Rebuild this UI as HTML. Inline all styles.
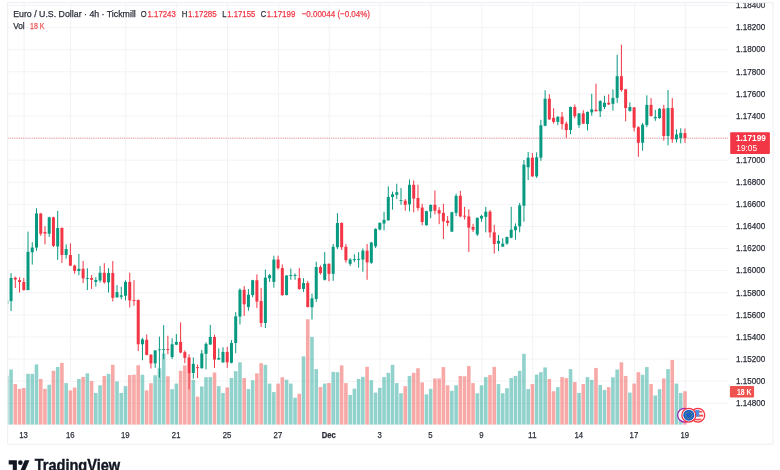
<!DOCTYPE html>
<html><head><meta charset="utf-8"><title>EURUSD chart</title>
<style>html,body{margin:0;padding:0;background:#fff;overflow:hidden}body{width:780px;height:470px;position:relative;font-family:"Liberation Sans",sans-serif}</style></head>
<body>
<svg width="780" height="470" viewBox="0 0 780 470" style="display:block;position:absolute;left:0;top:0" font-family="'Liberation Sans', sans-serif">
<rect width="780" height="470" fill="#fff"/>
<g opacity="0.999">
<defs><clipPath id="pane"><rect x="7.7" y="2.7" width="721.5" height="422.1"/></clipPath></defs>
<g stroke="#f2f3f6" stroke-width="1" shape-rendering="auto">
<line x1="7.7" x2="729.2" y1="5.50" y2="5.50"/>
<line x1="7.7" x2="729.2" y1="27.60" y2="27.60"/>
<line x1="7.7" x2="729.2" y1="49.70" y2="49.70"/>
<line x1="7.7" x2="729.2" y1="71.80" y2="71.80"/>
<line x1="7.7" x2="729.2" y1="93.90" y2="93.90"/>
<line x1="7.7" x2="729.2" y1="116.00" y2="116.00"/>
<line x1="7.7" x2="729.2" y1="138.10" y2="138.10"/>
<line x1="7.7" x2="729.2" y1="160.20" y2="160.20"/>
<line x1="7.7" x2="729.2" y1="182.30" y2="182.30"/>
<line x1="7.7" x2="729.2" y1="204.40" y2="204.40"/>
<line x1="7.7" x2="729.2" y1="226.50" y2="226.50"/>
<line x1="7.7" x2="729.2" y1="248.60" y2="248.60"/>
<line x1="7.7" x2="729.2" y1="270.70" y2="270.70"/>
<line x1="7.7" x2="729.2" y1="292.80" y2="292.80"/>
<line x1="7.7" x2="729.2" y1="314.90" y2="314.90"/>
<line x1="7.7" x2="729.2" y1="337.00" y2="337.00"/>
<line x1="7.7" x2="729.2" y1="359.10" y2="359.10"/>
<line x1="7.7" x2="729.2" y1="381.20" y2="381.20"/>
<line x1="7.7" x2="729.2" y1="403.30" y2="403.30"/>
<line x1="24.08" x2="24.08" y1="2.7" y2="424.8"/>
<line x1="70.70" x2="70.70" y1="2.7" y2="424.8"/>
<line x1="125.80" x2="125.80" y1="2.7" y2="424.8"/>
<line x1="176.66" x2="176.66" y1="2.7" y2="424.8"/>
<line x1="227.52" x2="227.52" y1="2.7" y2="424.8"/>
<line x1="278.39" x2="278.39" y1="2.7" y2="424.8"/>
<line x1="329.25" x2="329.25" y1="2.7" y2="424.8"/>
<line x1="380.11" x2="380.11" y1="2.7" y2="424.8"/>
<line x1="430.97" x2="430.97" y1="2.7" y2="424.8"/>
<line x1="481.83" x2="481.83" y1="2.7" y2="424.8"/>
<line x1="532.70" x2="532.70" y1="2.7" y2="424.8"/>
<line x1="579.32" x2="579.32" y1="2.7" y2="424.8"/>
<line x1="634.42" x2="634.42" y1="2.7" y2="424.8"/>
<line x1="685.28" x2="685.28" y1="2.7" y2="424.8"/>
</g>
<g clip-path="url(#pane)">
<rect x="5.02" y="375.93" width="3.6" height="48.87" fill="rgba(38,166,154,0.5)"/>
<rect x="9.26" y="369.46" width="3.6" height="55.34" fill="rgba(38,166,154,0.5)"/>
<rect x="13.50" y="384.09" width="3.6" height="40.71" fill="rgba(239,83,80,0.5)"/>
<rect x="17.74" y="388.86" width="3.6" height="35.94" fill="rgba(239,83,80,0.5)"/>
<rect x="21.98" y="388.01" width="3.6" height="36.79" fill="rgba(239,83,80,0.5)"/>
<rect x="26.21" y="373.88" width="3.6" height="50.92" fill="rgba(38,166,154,0.5)"/>
<rect x="30.45" y="373.88" width="3.6" height="50.92" fill="rgba(38,166,154,0.5)"/>
<rect x="34.69" y="364.36" width="3.6" height="60.44" fill="rgba(38,166,154,0.5)"/>
<rect x="38.93" y="378.99" width="3.6" height="45.81" fill="rgba(239,83,80,0.5)"/>
<rect x="43.17" y="388.86" width="3.6" height="35.94" fill="rgba(239,83,80,0.5)"/>
<rect x="47.41" y="384.77" width="3.6" height="40.03" fill="rgba(38,166,154,0.5)"/>
<rect x="51.65" y="370.82" width="3.6" height="53.98" fill="rgba(239,83,80,0.5)"/>
<rect x="55.88" y="366.91" width="3.6" height="57.89" fill="rgba(38,166,154,0.5)"/>
<rect x="60.12" y="362.82" width="3.6" height="61.98" fill="rgba(239,83,80,0.5)"/>
<rect x="64.36" y="383.07" width="3.6" height="41.73" fill="rgba(38,166,154,0.5)"/>
<rect x="68.60" y="390.39" width="3.6" height="34.41" fill="rgba(239,83,80,0.5)"/>
<rect x="72.84" y="387.50" width="3.6" height="37.30" fill="rgba(239,83,80,0.5)"/>
<rect x="77.08" y="378.99" width="3.6" height="45.81" fill="rgba(38,166,154,0.5)"/>
<rect x="81.31" y="376.95" width="3.6" height="47.85" fill="rgba(239,83,80,0.5)"/>
<rect x="85.55" y="373.37" width="3.6" height="51.43" fill="rgba(38,166,154,0.5)"/>
<rect x="89.79" y="381.03" width="3.6" height="43.77" fill="rgba(239,83,80,0.5)"/>
<rect x="94.03" y="392.94" width="3.6" height="31.86" fill="rgba(38,166,154,0.5)"/>
<rect x="98.27" y="385.28" width="3.6" height="39.52" fill="rgba(38,166,154,0.5)"/>
<rect x="102.51" y="375.93" width="3.6" height="48.87" fill="rgba(239,83,80,0.5)"/>
<rect x="106.75" y="373.88" width="3.6" height="50.92" fill="rgba(38,166,154,0.5)"/>
<rect x="110.98" y="364.87" width="3.6" height="59.93" fill="rgba(239,83,80,0.5)"/>
<rect x="115.22" y="381.37" width="3.6" height="43.43" fill="rgba(38,166,154,0.5)"/>
<rect x="119.46" y="392.94" width="3.6" height="31.86" fill="rgba(38,166,154,0.5)"/>
<rect x="123.70" y="386.14" width="3.6" height="38.66" fill="rgba(38,166,154,0.5)"/>
<rect x="127.94" y="375.08" width="3.6" height="49.72" fill="rgba(239,83,80,0.5)"/>
<rect x="132.18" y="374.74" width="3.6" height="50.06" fill="rgba(239,83,80,0.5)"/>
<rect x="136.41" y="365.21" width="3.6" height="59.59" fill="rgba(239,83,80,0.5)"/>
<rect x="140.65" y="374.74" width="3.6" height="50.06" fill="rgba(38,166,154,0.5)"/>
<rect x="144.89" y="390.39" width="3.6" height="34.41" fill="rgba(239,83,80,0.5)"/>
<rect x="149.13" y="383.24" width="3.6" height="41.56" fill="rgba(239,83,80,0.5)"/>
<rect x="153.37" y="375.25" width="3.6" height="49.55" fill="rgba(38,166,154,0.5)"/>
<rect x="157.61" y="368.27" width="3.6" height="56.53" fill="rgba(38,166,154,0.5)"/>
<rect x="161.85" y="353.47" width="3.6" height="71.33" fill="rgba(38,166,154,0.5)"/>
<rect x="166.08" y="376.27" width="3.6" height="48.53" fill="rgba(239,83,80,0.5)"/>
<rect x="170.32" y="389.20" width="3.6" height="35.60" fill="rgba(38,166,154,0.5)"/>
<rect x="174.56" y="383.58" width="3.6" height="41.22" fill="rgba(38,166,154,0.5)"/>
<rect x="178.80" y="370.82" width="3.6" height="53.98" fill="rgba(239,83,80,0.5)"/>
<rect x="183.04" y="365.38" width="3.6" height="59.42" fill="rgba(239,83,80,0.5)"/>
<rect x="187.28" y="372.52" width="3.6" height="52.28" fill="rgba(239,83,80,0.5)"/>
<rect x="191.52" y="379.84" width="3.6" height="44.96" fill="rgba(38,166,154,0.5)"/>
<rect x="195.75" y="396.69" width="3.6" height="28.11" fill="rgba(239,83,80,0.5)"/>
<rect x="199.99" y="386.48" width="3.6" height="38.32" fill="rgba(38,166,154,0.5)"/>
<rect x="204.23" y="377.12" width="3.6" height="47.68" fill="rgba(38,166,154,0.5)"/>
<rect x="208.47" y="377.12" width="3.6" height="47.68" fill="rgba(38,166,154,0.5)"/>
<rect x="212.71" y="372.52" width="3.6" height="52.28" fill="rgba(239,83,80,0.5)"/>
<rect x="216.95" y="386.14" width="3.6" height="38.66" fill="rgba(38,166,154,0.5)"/>
<rect x="221.19" y="392.94" width="3.6" height="31.86" fill="rgba(38,166,154,0.5)"/>
<rect x="225.42" y="387.50" width="3.6" height="37.30" fill="rgba(239,83,80,0.5)"/>
<rect x="229.66" y="377.97" width="3.6" height="46.83" fill="rgba(38,166,154,0.5)"/>
<rect x="233.90" y="371.16" width="3.6" height="53.64" fill="rgba(38,166,154,0.5)"/>
<rect x="238.14" y="362.31" width="3.6" height="62.49" fill="rgba(38,166,154,0.5)"/>
<rect x="242.38" y="377.97" width="3.6" height="46.83" fill="rgba(239,83,80,0.5)"/>
<rect x="246.62" y="389.03" width="3.6" height="35.77" fill="rgba(38,166,154,0.5)"/>
<rect x="250.85" y="380.18" width="3.6" height="44.62" fill="rgba(38,166,154,0.5)"/>
<rect x="255.09" y="373.37" width="3.6" height="51.43" fill="rgba(239,83,80,0.5)"/>
<rect x="259.33" y="363.16" width="3.6" height="61.64" fill="rgba(239,83,80,0.5)"/>
<rect x="263.57" y="364.87" width="3.6" height="59.93" fill="rgba(38,166,154,0.5)"/>
<rect x="267.81" y="383.58" width="3.6" height="41.22" fill="rgba(38,166,154,0.5)"/>
<rect x="272.05" y="392.09" width="3.6" height="32.71" fill="rgba(38,166,154,0.5)"/>
<rect x="276.29" y="383.58" width="3.6" height="41.22" fill="rgba(239,83,80,0.5)"/>
<rect x="280.52" y="377.29" width="3.6" height="47.51" fill="rgba(239,83,80,0.5)"/>
<rect x="284.76" y="379.67" width="3.6" height="45.13" fill="rgba(38,166,154,0.5)"/>
<rect x="289.00" y="383.58" width="3.6" height="41.22" fill="rgba(38,166,154,0.5)"/>
<rect x="293.24" y="397.71" width="3.6" height="27.09" fill="rgba(38,166,154,0.5)"/>
<rect x="297.48" y="393.79" width="3.6" height="31.01" fill="rgba(239,83,80,0.5)"/>
<rect x="301.72" y="356.36" width="3.6" height="68.44" fill="rgba(38,166,154,0.5)"/>
<rect x="305.95" y="319.30" width="3.6" height="105.50" fill="rgba(239,83,80,0.5)"/>
<rect x="310.19" y="336.90" width="3.6" height="87.90" fill="rgba(38,166,154,0.5)"/>
<rect x="314.43" y="369.12" width="3.6" height="55.68" fill="rgba(38,166,154,0.5)"/>
<rect x="318.67" y="386.99" width="3.6" height="37.81" fill="rgba(239,83,80,0.5)"/>
<rect x="322.91" y="383.58" width="3.6" height="41.22" fill="rgba(38,166,154,0.5)"/>
<rect x="327.15" y="383.07" width="3.6" height="41.73" fill="rgba(239,83,80,0.5)"/>
<rect x="331.39" y="371.84" width="3.6" height="52.96" fill="rgba(38,166,154,0.5)"/>
<rect x="335.62" y="372.18" width="3.6" height="52.62" fill="rgba(38,166,154,0.5)"/>
<rect x="339.86" y="365.38" width="3.6" height="59.42" fill="rgba(239,83,80,0.5)"/>
<rect x="344.10" y="383.07" width="3.6" height="41.73" fill="rgba(239,83,80,0.5)"/>
<rect x="348.34" y="394.98" width="3.6" height="29.82" fill="rgba(38,166,154,0.5)"/>
<rect x="352.58" y="388.69" width="3.6" height="36.11" fill="rgba(38,166,154,0.5)"/>
<rect x="356.82" y="378.99" width="3.6" height="45.81" fill="rgba(38,166,154,0.5)"/>
<rect x="361.06" y="376.78" width="3.6" height="48.02" fill="rgba(38,166,154,0.5)"/>
<rect x="365.29" y="366.74" width="3.6" height="58.06" fill="rgba(239,83,80,0.5)"/>
<rect x="369.53" y="380.18" width="3.6" height="44.62" fill="rgba(38,166,154,0.5)"/>
<rect x="373.77" y="392.60" width="3.6" height="32.20" fill="rgba(38,166,154,0.5)"/>
<rect x="378.01" y="387.84" width="3.6" height="36.96" fill="rgba(38,166,154,0.5)"/>
<rect x="382.25" y="377.12" width="3.6" height="47.68" fill="rgba(38,166,154,0.5)"/>
<rect x="386.49" y="372.86" width="3.6" height="51.94" fill="rgba(38,166,154,0.5)"/>
<rect x="390.73" y="364.87" width="3.6" height="59.93" fill="rgba(38,166,154,0.5)"/>
<rect x="394.96" y="383.07" width="3.6" height="41.73" fill="rgba(38,166,154,0.5)"/>
<rect x="399.20" y="393.28" width="3.6" height="31.52" fill="rgba(38,166,154,0.5)"/>
<rect x="403.44" y="386.14" width="3.6" height="38.66" fill="rgba(239,83,80,0.5)"/>
<rect x="407.68" y="375.93" width="3.6" height="48.87" fill="rgba(38,166,154,0.5)"/>
<rect x="411.92" y="372.86" width="3.6" height="51.94" fill="rgba(239,83,80,0.5)"/>
<rect x="416.16" y="368.27" width="3.6" height="56.53" fill="rgba(239,83,80,0.5)"/>
<rect x="420.39" y="382.39" width="3.6" height="42.41" fill="rgba(239,83,80,0.5)"/>
<rect x="424.63" y="394.30" width="3.6" height="30.50" fill="rgba(38,166,154,0.5)"/>
<rect x="428.87" y="388.86" width="3.6" height="35.94" fill="rgba(38,166,154,0.5)"/>
<rect x="433.11" y="378.48" width="3.6" height="46.32" fill="rgba(239,83,80,0.5)"/>
<rect x="437.35" y="378.48" width="3.6" height="46.32" fill="rgba(239,83,80,0.5)"/>
<rect x="441.59" y="367.08" width="3.6" height="57.72" fill="rgba(239,83,80,0.5)"/>
<rect x="445.83" y="385.28" width="3.6" height="39.52" fill="rgba(239,83,80,0.5)"/>
<rect x="450.06" y="390.90" width="3.6" height="33.90" fill="rgba(38,166,154,0.5)"/>
<rect x="454.30" y="385.28" width="3.6" height="39.52" fill="rgba(38,166,154,0.5)"/>
<rect x="458.54" y="375.93" width="3.6" height="48.87" fill="rgba(239,83,80,0.5)"/>
<rect x="462.78" y="376.27" width="3.6" height="48.53" fill="rgba(239,83,80,0.5)"/>
<rect x="467.02" y="366.06" width="3.6" height="58.74" fill="rgba(239,83,80,0.5)"/>
<rect x="471.26" y="383.07" width="3.6" height="41.73" fill="rgba(239,83,80,0.5)"/>
<rect x="475.50" y="393.28" width="3.6" height="31.52" fill="rgba(38,166,154,0.5)"/>
<rect x="479.73" y="385.28" width="3.6" height="39.52" fill="rgba(38,166,154,0.5)"/>
<rect x="483.97" y="377.12" width="3.6" height="47.68" fill="rgba(38,166,154,0.5)"/>
<rect x="488.21" y="375.08" width="3.6" height="49.72" fill="rgba(239,83,80,0.5)"/>
<rect x="492.45" y="366.91" width="3.6" height="57.89" fill="rgba(239,83,80,0.5)"/>
<rect x="496.69" y="384.09" width="3.6" height="40.71" fill="rgba(38,166,154,0.5)"/>
<rect x="500.93" y="393.28" width="3.6" height="31.52" fill="rgba(38,166,154,0.5)"/>
<rect x="505.16" y="388.18" width="3.6" height="36.62" fill="rgba(38,166,154,0.5)"/>
<rect x="509.40" y="377.97" width="3.6" height="46.83" fill="rgba(38,166,154,0.5)"/>
<rect x="513.64" y="375.93" width="3.6" height="48.87" fill="rgba(38,166,154,0.5)"/>
<rect x="517.88" y="370.82" width="3.6" height="53.98" fill="rgba(38,166,154,0.5)"/>
<rect x="522.12" y="353.81" width="3.6" height="70.99" fill="rgba(38,166,154,0.5)"/>
<rect x="526.36" y="389.03" width="3.6" height="35.77" fill="rgba(38,166,154,0.5)"/>
<rect x="530.60" y="384.09" width="3.6" height="40.71" fill="rgba(239,83,80,0.5)"/>
<rect x="534.83" y="374.57" width="3.6" height="50.23" fill="rgba(38,166,154,0.5)"/>
<rect x="539.07" y="372.18" width="3.6" height="52.62" fill="rgba(38,166,154,0.5)"/>
<rect x="543.31" y="367.42" width="3.6" height="57.38" fill="rgba(38,166,154,0.5)"/>
<rect x="547.55" y="378.99" width="3.6" height="45.81" fill="rgba(239,83,80,0.5)"/>
<rect x="551.79" y="391.24" width="3.6" height="33.56" fill="rgba(239,83,80,0.5)"/>
<rect x="556.03" y="387.16" width="3.6" height="37.64" fill="rgba(38,166,154,0.5)"/>
<rect x="560.26" y="377.12" width="3.6" height="47.68" fill="rgba(239,83,80,0.5)"/>
<rect x="564.50" y="378.14" width="3.6" height="46.66" fill="rgba(239,83,80,0.5)"/>
<rect x="568.74" y="369.12" width="3.6" height="55.68" fill="rgba(38,166,154,0.5)"/>
<rect x="572.98" y="382.05" width="3.6" height="42.75" fill="rgba(239,83,80,0.5)"/>
<rect x="577.22" y="392.94" width="3.6" height="31.86" fill="rgba(38,166,154,0.5)"/>
<rect x="581.46" y="384.09" width="3.6" height="40.71" fill="rgba(239,83,80,0.5)"/>
<rect x="585.70" y="377.12" width="3.6" height="47.68" fill="rgba(38,166,154,0.5)"/>
<rect x="589.93" y="379.84" width="3.6" height="44.96" fill="rgba(38,166,154,0.5)"/>
<rect x="594.17" y="367.93" width="3.6" height="56.87" fill="rgba(239,83,80,0.5)"/>
<rect x="598.41" y="384.94" width="3.6" height="39.86" fill="rgba(38,166,154,0.5)"/>
<rect x="602.65" y="390.05" width="3.6" height="34.75" fill="rgba(38,166,154,0.5)"/>
<rect x="606.89" y="387.16" width="3.6" height="37.64" fill="rgba(239,83,80,0.5)"/>
<rect x="611.13" y="377.29" width="3.6" height="47.51" fill="rgba(38,166,154,0.5)"/>
<rect x="615.37" y="369.46" width="3.6" height="55.34" fill="rgba(38,166,154,0.5)"/>
<rect x="619.60" y="362.31" width="3.6" height="62.49" fill="rgba(239,83,80,0.5)"/>
<rect x="623.84" y="375.93" width="3.6" height="48.87" fill="rgba(239,83,80,0.5)"/>
<rect x="628.08" y="392.60" width="3.6" height="32.20" fill="rgba(38,166,154,0.5)"/>
<rect x="632.32" y="383.58" width="3.6" height="41.22" fill="rgba(239,83,80,0.5)"/>
<rect x="636.56" y="372.18" width="3.6" height="52.62" fill="rgba(239,83,80,0.5)"/>
<rect x="640.80" y="374.74" width="3.6" height="50.06" fill="rgba(38,166,154,0.5)"/>
<rect x="645.03" y="367.08" width="3.6" height="57.72" fill="rgba(38,166,154,0.5)"/>
<rect x="649.27" y="384.09" width="3.6" height="40.71" fill="rgba(239,83,80,0.5)"/>
<rect x="653.51" y="395.49" width="3.6" height="29.31" fill="rgba(38,166,154,0.5)"/>
<rect x="657.75" y="389.20" width="3.6" height="35.60" fill="rgba(38,166,154,0.5)"/>
<rect x="661.99" y="378.48" width="3.6" height="46.32" fill="rgba(239,83,80,0.5)"/>
<rect x="666.23" y="369.12" width="3.6" height="55.68" fill="rgba(38,166,154,0.5)"/>
<rect x="670.47" y="359.93" width="3.6" height="64.87" fill="rgba(239,83,80,0.5)"/>
<rect x="674.70" y="383.58" width="3.6" height="41.22" fill="rgba(38,166,154,0.5)"/>
<rect x="678.94" y="392.94" width="3.6" height="31.86" fill="rgba(38,166,154,0.5)"/>
<rect x="683.18" y="391.24" width="3.6" height="33.56" fill="rgba(239,83,80,0.5)"/>
</g>
<line x1="7.7" x2="729.2" y1="138.21" y2="138.21" stroke="#f23645" stroke-width="0.8" stroke-dasharray="1 1.2" opacity="0.75"/>
<g clip-path="url(#pane)">
<rect x="6.32" y="300.80" width="1.0" height="3.40" fill="#089981"/>
<rect x="5.32" y="300.80" width="3.0" height="3.40" fill="#089981"/>
<rect x="10.56" y="273.09" width="1.0" height="37.91" fill="#089981"/>
<rect x="9.56" y="277.98" width="3.0" height="23.19" fill="#089981"/>
<rect x="14.80" y="276.70" width="1.0" height="11.28" fill="#f23645"/>
<rect x="13.80" y="277.77" width="3.0" height="1.70" fill="#f23645"/>
<rect x="19.04" y="277.34" width="1.0" height="15.32" fill="#f23645"/>
<rect x="18.04" y="280.11" width="3.0" height="1.91" fill="#f23645"/>
<rect x="23.28" y="277.98" width="1.0" height="12.55" fill="#f23645"/>
<rect x="22.28" y="282.02" width="3.0" height="8.09" fill="#f23645"/>
<rect x="27.51" y="231.60" width="1.0" height="58.51" fill="#089981"/>
<rect x="26.51" y="251.81" width="3.0" height="38.30" fill="#089981"/>
<rect x="31.75" y="242.23" width="1.0" height="22.34" fill="#089981"/>
<rect x="30.75" y="247.55" width="3.0" height="4.68" fill="#089981"/>
<rect x="35.99" y="208.19" width="1.0" height="42.55" fill="#089981"/>
<rect x="34.99" y="213.51" width="3.0" height="34.04" fill="#089981"/>
<rect x="40.23" y="213.09" width="1.0" height="22.76" fill="#f23645"/>
<rect x="39.23" y="213.51" width="3.0" height="20.21" fill="#f23645"/>
<rect x="44.47" y="226.28" width="1.0" height="18.08" fill="#f23645"/>
<rect x="43.47" y="232.02" width="3.0" height="1.49" fill="#f23645"/>
<rect x="48.71" y="216.70" width="1.0" height="20.21" fill="#089981"/>
<rect x="47.71" y="217.34" width="3.0" height="16.38" fill="#089981"/>
<rect x="52.95" y="216.70" width="1.0" height="30.21" fill="#f23645"/>
<rect x="51.95" y="217.34" width="3.0" height="28.51" fill="#f23645"/>
<rect x="57.18" y="210.96" width="1.0" height="48.93" fill="#089981"/>
<rect x="56.18" y="227.98" width="3.0" height="18.51" fill="#089981"/>
<rect x="61.42" y="227.34" width="1.0" height="35.53" fill="#f23645"/>
<rect x="60.42" y="227.98" width="3.0" height="27.02" fill="#f23645"/>
<rect x="65.66" y="244.36" width="1.0" height="14.26" fill="#089981"/>
<rect x="64.66" y="249.04" width="3.0" height="5.96" fill="#089981"/>
<rect x="69.90" y="243.30" width="1.0" height="22.76" fill="#f23645"/>
<rect x="68.90" y="255.00" width="3.0" height="10.64" fill="#f23645"/>
<rect x="74.14" y="264.57" width="1.0" height="9.15" fill="#f23645"/>
<rect x="73.14" y="265.64" width="3.0" height="5.32" fill="#f23645"/>
<rect x="78.38" y="253.94" width="1.0" height="21.27" fill="#089981"/>
<rect x="77.38" y="268.83" width="3.0" height="2.13" fill="#089981"/>
<rect x="82.61" y="260.96" width="1.0" height="22.13" fill="#f23645"/>
<rect x="81.61" y="268.83" width="3.0" height="9.57" fill="#f23645"/>
<rect x="86.85" y="268.19" width="1.0" height="21.92" fill="#089981"/>
<rect x="85.85" y="277.98" width="3.0" height="0.90" fill="#089981"/>
<rect x="91.09" y="275.11" width="1.0" height="13.83" fill="#f23645"/>
<rect x="90.09" y="278.09" width="3.0" height="1.70" fill="#f23645"/>
<rect x="95.33" y="277.23" width="1.0" height="9.37" fill="#089981"/>
<rect x="94.33" y="280.00" width="3.0" height="1.91" fill="#089981"/>
<rect x="99.57" y="265.96" width="1.0" height="16.59" fill="#089981"/>
<rect x="98.57" y="272.77" width="3.0" height="7.66" fill="#089981"/>
<rect x="103.81" y="263.19" width="1.0" height="20.43" fill="#f23645"/>
<rect x="102.81" y="272.77" width="3.0" height="9.57" fill="#f23645"/>
<rect x="108.05" y="268.09" width="1.0" height="24.46" fill="#089981"/>
<rect x="107.05" y="272.98" width="3.0" height="9.36" fill="#089981"/>
<rect x="112.28" y="261.06" width="1.0" height="40.43" fill="#f23645"/>
<rect x="111.28" y="272.98" width="3.0" height="24.89" fill="#f23645"/>
<rect x="116.52" y="285.11" width="1.0" height="12.76" fill="#089981"/>
<rect x="115.52" y="292.13" width="3.0" height="5.10" fill="#089981"/>
<rect x="120.76" y="286.60" width="1.0" height="12.76" fill="#089981"/>
<rect x="119.76" y="295.32" width="3.0" height="1.49" fill="#089981"/>
<rect x="125.00" y="280.43" width="1.0" height="20.00" fill="#089981"/>
<rect x="124.00" y="281.91" width="3.0" height="13.83" fill="#089981"/>
<rect x="129.24" y="272.77" width="1.0" height="34.68" fill="#f23645"/>
<rect x="128.24" y="281.91" width="3.0" height="18.52" fill="#f23645"/>
<rect x="133.48" y="280.21" width="1.0" height="25.53" fill="#f23645"/>
<rect x="132.48" y="300.00" width="3.0" height="0.90" fill="#f23645"/>
<rect x="137.72" y="299.40" width="1.0" height="51.66" fill="#f23645"/>
<rect x="136.72" y="300.00" width="3.0" height="44.26" fill="#f23645"/>
<rect x="141.95" y="337.87" width="1.0" height="22.34" fill="#089981"/>
<rect x="140.95" y="339.36" width="3.0" height="4.90" fill="#089981"/>
<rect x="146.19" y="334.47" width="1.0" height="20.85" fill="#f23645"/>
<rect x="145.19" y="339.79" width="3.0" height="15.10" fill="#f23645"/>
<rect x="150.43" y="354.26" width="1.0" height="14.25" fill="#f23645"/>
<rect x="149.43" y="354.68" width="3.0" height="8.72" fill="#f23645"/>
<rect x="154.67" y="350.00" width="1.0" height="17.66" fill="#089981"/>
<rect x="153.67" y="350.43" width="3.0" height="12.97" fill="#089981"/>
<rect x="158.91" y="336.60" width="1.0" height="41.06" fill="#089981"/>
<rect x="157.91" y="349.36" width="3.0" height="0.90" fill="#089981"/>
<rect x="163.15" y="325.11" width="1.0" height="34.04" fill="#089981"/>
<rect x="162.15" y="349.15" width="3.0" height="0.90" fill="#089981"/>
<rect x="167.38" y="335.74" width="1.0" height="18.52" fill="#f23645"/>
<rect x="166.38" y="349.15" width="3.0" height="0.90" fill="#f23645"/>
<rect x="171.62" y="338.30" width="1.0" height="20.64" fill="#089981"/>
<rect x="170.62" y="344.26" width="3.0" height="12.76" fill="#089981"/>
<rect x="175.86" y="334.04" width="1.0" height="11.07" fill="#089981"/>
<rect x="174.86" y="341.91" width="3.0" height="2.77" fill="#089981"/>
<rect x="180.10" y="322.34" width="1.0" height="30.85" fill="#f23645"/>
<rect x="179.10" y="341.91" width="3.0" height="10.64" fill="#f23645"/>
<rect x="184.34" y="350.43" width="1.0" height="12.76" fill="#f23645"/>
<rect x="183.34" y="352.13" width="3.0" height="5.74" fill="#f23645"/>
<rect x="188.58" y="354.26" width="1.0" height="35.10" fill="#f23645"/>
<rect x="187.58" y="357.45" width="3.0" height="15.53" fill="#f23645"/>
<rect x="192.82" y="357.45" width="1.0" height="21.27" fill="#089981"/>
<rect x="191.82" y="363.83" width="3.0" height="9.15" fill="#089981"/>
<rect x="197.05" y="364.47" width="1.0" height="13.62" fill="#f23645"/>
<rect x="196.05" y="367.23" width="3.0" height="0.90" fill="#f23645"/>
<rect x="201.29" y="350.00" width="1.0" height="18.51" fill="#089981"/>
<rect x="200.29" y="353.45" width="3.0" height="14.81" fill="#089981"/>
<rect x="205.53" y="342.34" width="1.0" height="27.07" fill="#089981"/>
<rect x="204.53" y="343.87" width="3.0" height="9.96" fill="#089981"/>
<rect x="209.77" y="324.85" width="1.0" height="20.04" fill="#089981"/>
<rect x="208.77" y="336.98" width="3.0" height="7.53" fill="#089981"/>
<rect x="214.01" y="334.68" width="1.0" height="33.19" fill="#f23645"/>
<rect x="213.01" y="336.98" width="3.0" height="22.60" fill="#f23645"/>
<rect x="218.25" y="348.34" width="1.0" height="11.49" fill="#089981"/>
<rect x="217.25" y="357.92" width="3.0" height="1.66" fill="#089981"/>
<rect x="222.49" y="347.19" width="1.0" height="15.58" fill="#089981"/>
<rect x="221.49" y="351.92" width="3.0" height="10.46" fill="#089981"/>
<rect x="226.72" y="346.81" width="1.0" height="21.06" fill="#f23645"/>
<rect x="225.72" y="351.92" width="3.0" height="10.46" fill="#f23645"/>
<rect x="230.96" y="340.04" width="1.0" height="23.37" fill="#089981"/>
<rect x="229.96" y="342.98" width="3.0" height="19.79" fill="#089981"/>
<rect x="235.20" y="312.13" width="1.0" height="41.06" fill="#089981"/>
<rect x="234.20" y="316.38" width="3.0" height="26.60" fill="#089981"/>
<rect x="239.44" y="288.30" width="1.0" height="36.17" fill="#089981"/>
<rect x="238.44" y="289.79" width="3.0" height="26.81" fill="#089981"/>
<rect x="243.68" y="286.17" width="1.0" height="29.79" fill="#f23645"/>
<rect x="242.68" y="289.79" width="3.0" height="14.47" fill="#f23645"/>
<rect x="247.92" y="288.94" width="1.0" height="21.70" fill="#089981"/>
<rect x="246.92" y="294.68" width="3.0" height="12.34" fill="#089981"/>
<rect x="252.15" y="279.79" width="1.0" height="17.44" fill="#089981"/>
<rect x="251.15" y="280.21" width="3.0" height="14.90" fill="#089981"/>
<rect x="256.39" y="274.47" width="1.0" height="33.40" fill="#f23645"/>
<rect x="255.39" y="280.21" width="3.0" height="21.28" fill="#f23645"/>
<rect x="260.63" y="287.87" width="1.0" height="39.15" fill="#f23645"/>
<rect x="259.63" y="301.06" width="3.0" height="21.92" fill="#f23645"/>
<rect x="264.87" y="269.57" width="1.0" height="58.52" fill="#089981"/>
<rect x="263.87" y="277.66" width="3.0" height="45.32" fill="#089981"/>
<rect x="269.11" y="274.04" width="1.0" height="7.87" fill="#089981"/>
<rect x="268.11" y="275.11" width="3.0" height="3.19" fill="#089981"/>
<rect x="273.35" y="255.74" width="1.0" height="31.92" fill="#089981"/>
<rect x="272.35" y="259.57" width="3.0" height="22.34" fill="#089981"/>
<rect x="277.59" y="255.74" width="1.0" height="13.83" fill="#f23645"/>
<rect x="276.59" y="259.57" width="3.0" height="8.52" fill="#f23645"/>
<rect x="281.82" y="264.47" width="1.0" height="31.27" fill="#f23645"/>
<rect x="280.82" y="268.09" width="3.0" height="27.02" fill="#f23645"/>
<rect x="286.06" y="275.11" width="1.0" height="20.21" fill="#089981"/>
<rect x="285.06" y="275.53" width="3.0" height="19.58" fill="#089981"/>
<rect x="290.30" y="268.51" width="1.0" height="11.28" fill="#089981"/>
<rect x="289.30" y="275.11" width="3.0" height="0.90" fill="#089981"/>
<rect x="294.54" y="273.40" width="1.0" height="6.39" fill="#089981"/>
<rect x="293.54" y="275.11" width="3.0" height="0.90" fill="#089981"/>
<rect x="298.78" y="268.09" width="1.0" height="21.70" fill="#f23645"/>
<rect x="297.78" y="278.09" width="3.0" height="10.85" fill="#f23645"/>
<rect x="303.02" y="278.10" width="1.0" height="13.81" fill="#089981"/>
<rect x="302.02" y="282.98" width="3.0" height="5.96" fill="#089981"/>
<rect x="307.25" y="280.85" width="1.0" height="26.60" fill="#f23645"/>
<rect x="306.25" y="282.98" width="3.0" height="24.04" fill="#f23645"/>
<rect x="311.49" y="293.62" width="1.0" height="25.91" fill="#089981"/>
<rect x="310.49" y="298.34" width="3.0" height="8.94" fill="#089981"/>
<rect x="315.73" y="261.70" width="1.0" height="40.21" fill="#089981"/>
<rect x="314.73" y="267.02" width="3.0" height="31.92" fill="#089981"/>
<rect x="319.97" y="265.32" width="1.0" height="9.15" fill="#f23645"/>
<rect x="318.97" y="267.02" width="3.0" height="5.96" fill="#f23645"/>
<rect x="324.21" y="252.13" width="1.0" height="28.30" fill="#089981"/>
<rect x="323.21" y="263.83" width="3.0" height="15.96" fill="#089981"/>
<rect x="328.45" y="263.40" width="1.0" height="17.88" fill="#f23645"/>
<rect x="327.45" y="263.83" width="3.0" height="10.00" fill="#f23645"/>
<rect x="332.69" y="244.04" width="1.0" height="36.81" fill="#089981"/>
<rect x="331.69" y="246.81" width="3.0" height="27.02" fill="#089981"/>
<rect x="336.92" y="213.19" width="1.0" height="35.75" fill="#089981"/>
<rect x="335.92" y="222.98" width="3.0" height="24.25" fill="#089981"/>
<rect x="341.16" y="222.34" width="1.0" height="27.66" fill="#f23645"/>
<rect x="340.16" y="222.98" width="3.0" height="24.25" fill="#f23645"/>
<rect x="345.40" y="244.04" width="1.0" height="18.73" fill="#f23645"/>
<rect x="344.40" y="246.81" width="3.0" height="13.40" fill="#f23645"/>
<rect x="349.64" y="258.09" width="1.0" height="7.87" fill="#089981"/>
<rect x="348.64" y="259.57" width="3.0" height="4.26" fill="#089981"/>
<rect x="353.88" y="254.26" width="1.0" height="7.87" fill="#089981"/>
<rect x="352.88" y="259.15" width="3.0" height="1.06" fill="#089981"/>
<rect x="358.12" y="252.13" width="1.0" height="15.53" fill="#089981"/>
<rect x="357.12" y="258.94" width="3.0" height="0.90" fill="#089981"/>
<rect x="362.36" y="248.51" width="1.0" height="23.19" fill="#089981"/>
<rect x="361.36" y="250.64" width="3.0" height="8.93" fill="#089981"/>
<rect x="366.59" y="244.04" width="1.0" height="35.75" fill="#f23645"/>
<rect x="365.59" y="250.64" width="3.0" height="11.70" fill="#f23645"/>
<rect x="370.83" y="241.91" width="1.0" height="21.92" fill="#089981"/>
<rect x="369.83" y="242.55" width="3.0" height="20.22" fill="#089981"/>
<rect x="375.07" y="228.40" width="1.0" height="19.58" fill="#089981"/>
<rect x="374.07" y="228.83" width="3.0" height="17.45" fill="#089981"/>
<rect x="379.31" y="222.45" width="1.0" height="7.87" fill="#089981"/>
<rect x="378.31" y="222.87" width="3.0" height="6.60" fill="#089981"/>
<rect x="383.55" y="211.81" width="1.0" height="18.51" fill="#089981"/>
<rect x="382.55" y="219.89" width="3.0" height="3.62" fill="#089981"/>
<rect x="387.79" y="186.28" width="1.0" height="34.46" fill="#089981"/>
<rect x="386.79" y="196.91" width="3.0" height="23.41" fill="#089981"/>
<rect x="392.03" y="191.60" width="1.0" height="18.08" fill="#089981"/>
<rect x="391.03" y="194.36" width="3.0" height="2.55" fill="#089981"/>
<rect x="396.26" y="183.72" width="1.0" height="15.32" fill="#089981"/>
<rect x="395.26" y="192.23" width="3.0" height="2.56" fill="#089981"/>
<rect x="400.50" y="187.98" width="1.0" height="16.81" fill="#089981"/>
<rect x="399.50" y="200.11" width="3.0" height="0.90" fill="#089981"/>
<rect x="404.74" y="199.04" width="1.0" height="11.70" fill="#f23645"/>
<rect x="403.74" y="200.74" width="3.0" height="4.05" fill="#f23645"/>
<rect x="408.98" y="179.47" width="1.0" height="31.91" fill="#089981"/>
<rect x="407.98" y="184.79" width="3.0" height="19.57" fill="#089981"/>
<rect x="413.22" y="180.32" width="1.0" height="31.91" fill="#f23645"/>
<rect x="412.22" y="184.79" width="3.0" height="13.83" fill="#f23645"/>
<rect x="417.46" y="184.79" width="1.0" height="25.95" fill="#f23645"/>
<rect x="416.46" y="197.98" width="3.0" height="10.00" fill="#f23645"/>
<rect x="421.69" y="203.72" width="1.0" height="21.49" fill="#f23645"/>
<rect x="420.69" y="207.55" width="3.0" height="14.47" fill="#f23645"/>
<rect x="425.93" y="210.74" width="1.0" height="14.90" fill="#089981"/>
<rect x="424.93" y="211.17" width="3.0" height="14.04" fill="#089981"/>
<rect x="430.17" y="204.36" width="1.0" height="13.83" fill="#089981"/>
<rect x="429.17" y="205.00" width="3.0" height="6.38" fill="#089981"/>
<rect x="434.41" y="190.53" width="1.0" height="23.83" fill="#f23645"/>
<rect x="433.41" y="204.79" width="3.0" height="5.95" fill="#f23645"/>
<rect x="438.65" y="207.13" width="1.0" height="17.02" fill="#f23645"/>
<rect x="437.65" y="210.11" width="3.0" height="3.40" fill="#f23645"/>
<rect x="442.89" y="203.72" width="1.0" height="35.32" fill="#f23645"/>
<rect x="441.89" y="212.87" width="3.0" height="8.51" fill="#f23645"/>
<rect x="447.13" y="216.06" width="1.0" height="10.00" fill="#f23645"/>
<rect x="446.13" y="220.74" width="3.0" height="2.13" fill="#f23645"/>
<rect x="451.36" y="211.81" width="1.0" height="20.21" fill="#089981"/>
<rect x="450.36" y="212.23" width="3.0" height="19.37" fill="#089981"/>
<rect x="455.60" y="193.72" width="1.0" height="22.34" fill="#089981"/>
<rect x="454.60" y="195.85" width="3.0" height="17.02" fill="#089981"/>
<rect x="459.84" y="190.85" width="1.0" height="26.60" fill="#f23645"/>
<rect x="458.84" y="195.74" width="3.0" height="20.64" fill="#f23645"/>
<rect x="464.08" y="206.81" width="1.0" height="12.76" fill="#f23645"/>
<rect x="463.08" y="215.74" width="3.0" height="0.90" fill="#f23645"/>
<rect x="468.32" y="209.36" width="1.0" height="42.55" fill="#f23645"/>
<rect x="467.32" y="216.38" width="3.0" height="11.28" fill="#f23645"/>
<rect x="472.56" y="223.83" width="1.0" height="8.08" fill="#f23645"/>
<rect x="471.56" y="227.02" width="3.0" height="2.77" fill="#f23645"/>
<rect x="476.80" y="217.45" width="1.0" height="18.51" fill="#089981"/>
<rect x="475.80" y="217.87" width="3.0" height="16.60" fill="#089981"/>
<rect x="481.03" y="214.89" width="1.0" height="6.81" fill="#089981"/>
<rect x="480.03" y="215.96" width="3.0" height="2.55" fill="#089981"/>
<rect x="485.27" y="206.81" width="1.0" height="25.53" fill="#089981"/>
<rect x="484.27" y="211.70" width="3.0" height="5.11" fill="#089981"/>
<rect x="489.51" y="210.00" width="1.0" height="27.66" fill="#f23645"/>
<rect x="488.51" y="211.70" width="3.0" height="20.64" fill="#f23645"/>
<rect x="493.75" y="224.89" width="1.0" height="28.73" fill="#f23645"/>
<rect x="492.75" y="232.34" width="3.0" height="11.70" fill="#f23645"/>
<rect x="497.99" y="234.89" width="1.0" height="16.17" fill="#089981"/>
<rect x="496.99" y="240.85" width="3.0" height="2.77" fill="#089981"/>
<rect x="502.23" y="238.30" width="1.0" height="8.51" fill="#089981"/>
<rect x="501.23" y="243.62" width="3.0" height="2.98" fill="#089981"/>
<rect x="506.46" y="236.60" width="1.0" height="8.08" fill="#089981"/>
<rect x="505.46" y="237.02" width="3.0" height="6.60" fill="#089981"/>
<rect x="510.70" y="206.81" width="1.0" height="31.49" fill="#089981"/>
<rect x="509.70" y="229.79" width="3.0" height="7.87" fill="#089981"/>
<rect x="514.94" y="223.40" width="1.0" height="16.39" fill="#089981"/>
<rect x="513.94" y="226.38" width="3.0" height="3.83" fill="#089981"/>
<rect x="519.18" y="202.98" width="1.0" height="29.36" fill="#089981"/>
<rect x="518.18" y="205.32" width="3.0" height="21.06" fill="#089981"/>
<rect x="523.42" y="160.00" width="1.0" height="61.70" fill="#089981"/>
<rect x="522.42" y="164.68" width="3.0" height="41.06" fill="#089981"/>
<rect x="527.66" y="151.91" width="1.0" height="28.09" fill="#089981"/>
<rect x="526.66" y="157.66" width="3.0" height="9.57" fill="#089981"/>
<rect x="531.90" y="152.98" width="1.0" height="23.83" fill="#f23645"/>
<rect x="530.90" y="157.66" width="3.0" height="18.72" fill="#f23645"/>
<rect x="536.13" y="152.34" width="1.0" height="25.53" fill="#089981"/>
<rect x="535.13" y="157.23" width="3.0" height="19.15" fill="#089981"/>
<rect x="540.37" y="119.79" width="1.0" height="41.06" fill="#089981"/>
<rect x="539.37" y="125.32" width="3.0" height="32.34" fill="#089981"/>
<rect x="544.61" y="90.21" width="1.0" height="35.96" fill="#089981"/>
<rect x="543.61" y="98.72" width="3.0" height="27.02" fill="#089981"/>
<rect x="548.85" y="94.26" width="1.0" height="25.53" fill="#f23645"/>
<rect x="547.85" y="98.72" width="3.0" height="20.64" fill="#f23645"/>
<rect x="553.09" y="108.30" width="1.0" height="15.32" fill="#f23645"/>
<rect x="552.09" y="117.87" width="3.0" height="4.04" fill="#f23645"/>
<rect x="557.33" y="116.17" width="1.0" height="8.94" fill="#089981"/>
<rect x="556.33" y="116.81" width="3.0" height="5.10" fill="#089981"/>
<rect x="561.56" y="111.91" width="1.0" height="17.66" fill="#f23645"/>
<rect x="560.56" y="116.81" width="3.0" height="7.23" fill="#f23645"/>
<rect x="565.80" y="121.49" width="1.0" height="16.38" fill="#f23645"/>
<rect x="564.80" y="123.62" width="3.0" height="6.38" fill="#f23645"/>
<rect x="570.04" y="106.60" width="1.0" height="27.66" fill="#089981"/>
<rect x="569.04" y="107.02" width="3.0" height="22.98" fill="#089981"/>
<rect x="574.28" y="104.47" width="1.0" height="13.83" fill="#f23645"/>
<rect x="573.28" y="107.02" width="3.0" height="9.15" fill="#f23645"/>
<rect x="578.52" y="112.98" width="1.0" height="14.89" fill="#089981"/>
<rect x="577.52" y="113.40" width="3.0" height="11.71" fill="#089981"/>
<rect x="582.76" y="110.21" width="1.0" height="13.83" fill="#f23645"/>
<rect x="581.76" y="113.40" width="3.0" height="10.22" fill="#f23645"/>
<rect x="587.00" y="111.49" width="1.0" height="18.94" fill="#089981"/>
<rect x="586.00" y="111.91" width="3.0" height="12.13" fill="#089981"/>
<rect x="591.23" y="93.83" width="1.0" height="21.91" fill="#089981"/>
<rect x="590.23" y="109.36" width="3.0" height="2.98" fill="#089981"/>
<rect x="595.47" y="83.62" width="1.0" height="27.66" fill="#f23645"/>
<rect x="594.47" y="109.79" width="3.0" height="1.49" fill="#f23645"/>
<rect x="599.71" y="100.21" width="1.0" height="16.81" fill="#089981"/>
<rect x="598.71" y="101.06" width="3.0" height="10.22" fill="#089981"/>
<rect x="603.95" y="95.74" width="1.0" height="13.41" fill="#089981"/>
<rect x="602.95" y="102.77" width="3.0" height="4.25" fill="#089981"/>
<rect x="608.19" y="94.26" width="1.0" height="10.63" fill="#f23645"/>
<rect x="607.19" y="102.77" width="3.0" height="1.70" fill="#f23645"/>
<rect x="612.43" y="89.36" width="1.0" height="21.28" fill="#089981"/>
<rect x="611.43" y="97.87" width="3.0" height="5.96" fill="#089981"/>
<rect x="616.67" y="54.89" width="1.0" height="47.88" fill="#089981"/>
<rect x="615.67" y="76.17" width="3.0" height="21.70" fill="#089981"/>
<rect x="620.90" y="44.68" width="1.0" height="47.02" fill="#f23645"/>
<rect x="619.90" y="76.17" width="3.0" height="13.83" fill="#f23645"/>
<rect x="625.14" y="88.94" width="1.0" height="32.34" fill="#f23645"/>
<rect x="624.14" y="89.36" width="3.0" height="18.73" fill="#f23645"/>
<rect x="629.38" y="102.34" width="1.0" height="9.36" fill="#089981"/>
<rect x="628.38" y="107.02" width="3.0" height="3.83" fill="#089981"/>
<rect x="633.62" y="107.02" width="1.0" height="24.47" fill="#f23645"/>
<rect x="632.62" y="107.45" width="3.0" height="20.21" fill="#f23645"/>
<rect x="637.86" y="126.17" width="1.0" height="30.63" fill="#f23645"/>
<rect x="636.86" y="127.23" width="3.0" height="15.57" fill="#f23645"/>
<rect x="642.10" y="122.98" width="1.0" height="27.72" fill="#089981"/>
<rect x="641.10" y="124.68" width="3.0" height="18.12" fill="#089981"/>
<rect x="646.33" y="95.32" width="1.0" height="31.91" fill="#089981"/>
<rect x="645.33" y="104.89" width="3.0" height="20.22" fill="#089981"/>
<rect x="650.57" y="98.09" width="1.0" height="18.51" fill="#f23645"/>
<rect x="649.57" y="104.89" width="3.0" height="11.07" fill="#f23645"/>
<rect x="654.81" y="109.79" width="1.0" height="11.06" fill="#089981"/>
<rect x="653.81" y="117.02" width="3.0" height="1.28" fill="#089981"/>
<rect x="659.05" y="108.09" width="1.0" height="10.63" fill="#089981"/>
<rect x="658.05" y="108.72" width="3.0" height="9.37" fill="#089981"/>
<rect x="663.29" y="104.89" width="1.0" height="35.71" fill="#f23645"/>
<rect x="662.29" y="108.72" width="3.0" height="27.28" fill="#f23645"/>
<rect x="667.53" y="90.00" width="1.0" height="55.30" fill="#089981"/>
<rect x="666.53" y="108.09" width="3.0" height="27.91" fill="#089981"/>
<rect x="671.77" y="98.09" width="1.0" height="44.71" fill="#f23645"/>
<rect x="670.77" y="108.09" width="3.0" height="31.21" fill="#f23645"/>
<rect x="676.00" y="129.40" width="1.0" height="13.10" fill="#089981"/>
<rect x="675.00" y="134.50" width="3.0" height="4.80" fill="#089981"/>
<rect x="680.24" y="128.30" width="1.0" height="15.10" fill="#089981"/>
<rect x="679.24" y="132.90" width="3.0" height="5.00" fill="#089981"/>
<rect x="684.48" y="128.50" width="1.0" height="14.40" fill="#f23645"/>
<rect x="683.48" y="133.15" width="3.0" height="4.85" fill="#f23645"/>
</g>
<rect x="7.7" y="2.7" width="765.3" height="441.5" fill="none" stroke="#e9ebf0" stroke-width="0.9"/>
<clipPath id="axc"><rect x="730" y="3.3" width="42" height="440"/></clipPath>
<g fill="#2a2e39" stroke="#2a2e39" stroke-width="0.25" font-size="9.2" text-anchor="end" clip-path="url(#axc)">
<text x="765.3" y="8.20" textLength="29.2" lengthAdjust="spacingAndGlyphs">1.18400</text>
<text x="765.3" y="30.30" textLength="29.2" lengthAdjust="spacingAndGlyphs">1.18200</text>
<text x="765.3" y="52.40" textLength="29.2" lengthAdjust="spacingAndGlyphs">1.18000</text>
<text x="765.3" y="74.50" textLength="29.2" lengthAdjust="spacingAndGlyphs">1.17800</text>
<text x="765.3" y="96.60" textLength="29.2" lengthAdjust="spacingAndGlyphs">1.17600</text>
<text x="765.3" y="118.70" textLength="29.2" lengthAdjust="spacingAndGlyphs">1.17400</text>
<text x="765.3" y="140.80" textLength="29.2" lengthAdjust="spacingAndGlyphs">1.17200</text>
<text x="765.3" y="162.90" textLength="29.2" lengthAdjust="spacingAndGlyphs">1.17000</text>
<text x="765.3" y="185.00" textLength="29.2" lengthAdjust="spacingAndGlyphs">1.16800</text>
<text x="765.3" y="207.10" textLength="29.2" lengthAdjust="spacingAndGlyphs">1.16600</text>
<text x="765.3" y="229.20" textLength="29.2" lengthAdjust="spacingAndGlyphs">1.16400</text>
<text x="765.3" y="251.30" textLength="29.2" lengthAdjust="spacingAndGlyphs">1.16200</text>
<text x="765.3" y="273.40" textLength="29.2" lengthAdjust="spacingAndGlyphs">1.16000</text>
<text x="765.3" y="295.50" textLength="29.2" lengthAdjust="spacingAndGlyphs">1.15800</text>
<text x="765.3" y="317.60" textLength="29.2" lengthAdjust="spacingAndGlyphs">1.15600</text>
<text x="765.3" y="339.70" textLength="29.2" lengthAdjust="spacingAndGlyphs">1.15400</text>
<text x="765.3" y="361.80" textLength="29.2" lengthAdjust="spacingAndGlyphs">1.15200</text>
<text x="765.3" y="383.90" textLength="29.2" lengthAdjust="spacingAndGlyphs">1.15000</text>
<text x="765.3" y="406.00" textLength="29.2" lengthAdjust="spacingAndGlyphs">1.14800</text>
</g>
<g fill="#2a2e39" stroke="#2a2e39" stroke-width="0.25" font-size="9.3" text-anchor="middle">
<text x="23.58" y="437.8" textLength="8.6" lengthAdjust="spacingAndGlyphs">13</text>
<text x="70.20" y="437.8" textLength="8.6" lengthAdjust="spacingAndGlyphs">16</text>
<text x="125.30" y="437.8" textLength="8.6" lengthAdjust="spacingAndGlyphs">19</text>
<text x="176.16" y="437.8" textLength="8.6" lengthAdjust="spacingAndGlyphs">21</text>
<text x="227.02" y="437.8" textLength="8.6" lengthAdjust="spacingAndGlyphs">25</text>
<text x="277.89" y="437.8" textLength="8.6" lengthAdjust="spacingAndGlyphs">27</text>
<text x="328.75" y="437.8" font-weight="bold" textLength="14.1" lengthAdjust="spacingAndGlyphs">Dec</text>
<text x="379.61" y="437.8" textLength="4.3" lengthAdjust="spacingAndGlyphs">3</text>
<text x="430.47" y="437.8" textLength="4.3" lengthAdjust="spacingAndGlyphs">5</text>
<text x="481.33" y="437.8" textLength="4.3" lengthAdjust="spacingAndGlyphs">9</text>
<text x="532.20" y="437.8" textLength="8.6" lengthAdjust="spacingAndGlyphs">11</text>
<text x="578.82" y="437.8" textLength="8.6" lengthAdjust="spacingAndGlyphs">14</text>
<text x="633.92" y="437.8" textLength="8.6" lengthAdjust="spacingAndGlyphs">17</text>
<text x="684.78" y="437.8" textLength="8.6" lengthAdjust="spacingAndGlyphs">19</text>
</g>
<rect x="730.2" y="132.2" width="39.7" height="21.8" rx="1" fill="#f23645"/>
<text x="765.8" y="141.1" font-size="9.2" font-weight="bold" fill="#fff" text-anchor="end" textLength="29.8" lengthAdjust="spacingAndGlyphs">1.17199</text>
<text x="736.3" y="151.1" font-size="9.2" fill="#fff" textLength="20.8" lengthAdjust="spacingAndGlyphs">19:05</text>
<rect x="729.9" y="386.0" width="24.2" height="11.6" rx="1" fill="#ef5350"/>
<text x="736.9" y="394.8" font-size="9.2" font-weight="bold" fill="#fff" textLength="14.6" lengthAdjust="spacingAndGlyphs">18 K</text>
<g font-size="9.2" fill="#2a2e39" stroke="#2a2e39" stroke-width="0.25">
<text x="13.2" y="16.6" textLength="122.6" lengthAdjust="spacingAndGlyphs">Euro / U.S. Dollar · 4h · Tickmill</text>
<text x="140.8" y="16.6" textLength="5.9" lengthAdjust="spacingAndGlyphs">O</text>
<text x="147.5" y="16.6" fill="#f23645" stroke="#f23645" textLength="28.3" lengthAdjust="spacingAndGlyphs">1.17243</text>
<text x="181.7" y="16.6" textLength="5.6" lengthAdjust="spacingAndGlyphs">H</text>
<text x="188.0" y="16.6" fill="#f23645" stroke="#f23645" textLength="28.7" lengthAdjust="spacingAndGlyphs">1.17285</text>
<text x="222.2" y="16.6" textLength="4.3" lengthAdjust="spacingAndGlyphs">L</text>
<text x="227.2" y="16.6" fill="#f23645" stroke="#f23645" textLength="28.1" lengthAdjust="spacingAndGlyphs">1.17155</text>
<text x="260.8" y="16.6" textLength="5.4" lengthAdjust="spacingAndGlyphs">C</text>
<text x="266.7" y="16.6" fill="#f23645" stroke="#f23645" textLength="28.6" lengthAdjust="spacingAndGlyphs">1.17199</text>
<text x="301.7" y="16.6" fill="#f23645" stroke="#f23645" textLength="68.3" lengthAdjust="spacingAndGlyphs">−0.00044 (−0.04%)</text>
<text x="13.2" y="28.6" textLength="11.5" lengthAdjust="spacingAndGlyphs">Vol</text>
<text x="30.0" y="28.6" fill="#ef5350" stroke="#ef5350" textLength="14.6" lengthAdjust="spacingAndGlyphs">18 K</text>
</g>
<circle cx="684.6" cy="415.2" r="6.9" fill="#fff" stroke="#9c27b0" stroke-width="1.3"/>
<defs><clipPath id="usc"><circle cx="697.8" cy="415.2" r="5.5"/></clipPath></defs>
<circle cx="697.8" cy="415.2" r="6.9" fill="#fff" stroke="#f23645" stroke-width="1.3"/>
<g clip-path="url(#usc)">
<rect x="691.8" y="409.2" width="12" height="12" fill="#fff"/>
<rect x="691.8" y="410.60" width="12" height="2.0" fill="#ef5350"/>
<rect x="691.8" y="414.65" width="12" height="2.0" fill="#ef5350"/>
<rect x="691.8" y="418.70" width="12" height="2.0" fill="#ef5350"/>
<rect x="691.8" y="409.2" width="7.4" height="7.5" fill="#4a8fe6"/>
</g>
<circle cx="688.8" cy="415.2" r="6.9" fill="#fff" stroke="#f23645" stroke-width="1.3"/>
<circle cx="688.8" cy="415.2" r="5.5" fill="#1b5fc1"/>
<circle cx="692.10" cy="415.20" r="0.45" fill="#d9c94a"/>
<circle cx="691.66" cy="416.85" r="0.45" fill="#d9c94a"/>
<circle cx="690.45" cy="418.06" r="0.45" fill="#d9c94a"/>
<circle cx="688.80" cy="418.50" r="0.45" fill="#d9c94a"/>
<circle cx="687.15" cy="418.06" r="0.45" fill="#d9c94a"/>
<circle cx="685.94" cy="416.85" r="0.45" fill="#d9c94a"/>
<circle cx="685.50" cy="415.20" r="0.45" fill="#d9c94a"/>
<circle cx="685.94" cy="413.55" r="0.45" fill="#d9c94a"/>
<circle cx="687.15" cy="412.34" r="0.45" fill="#d9c94a"/>
<circle cx="688.80" cy="411.90" r="0.45" fill="#d9c94a"/>
<circle cx="690.45" cy="412.34" r="0.45" fill="#d9c94a"/>
<circle cx="691.66" cy="413.55" r="0.45" fill="#d9c94a"/>
<g transform="translate(8.7,457.97) scale(0.583)" fill="#131722">
<path d="M14 22H7V11H0V4h14v18z"/><circle cx="20" cy="8" r="4"/><path d="M28 22h-8l7.5-18h8L28 22z"/>
</g>
<text x="34.7" y="471.4" font-size="16" font-weight="bold" fill="#131722" stroke="#131722" stroke-width="0.4" textLength="85.4" lengthAdjust="spacingAndGlyphs">TradingView</text>
</g>
</svg>
</body></html>
